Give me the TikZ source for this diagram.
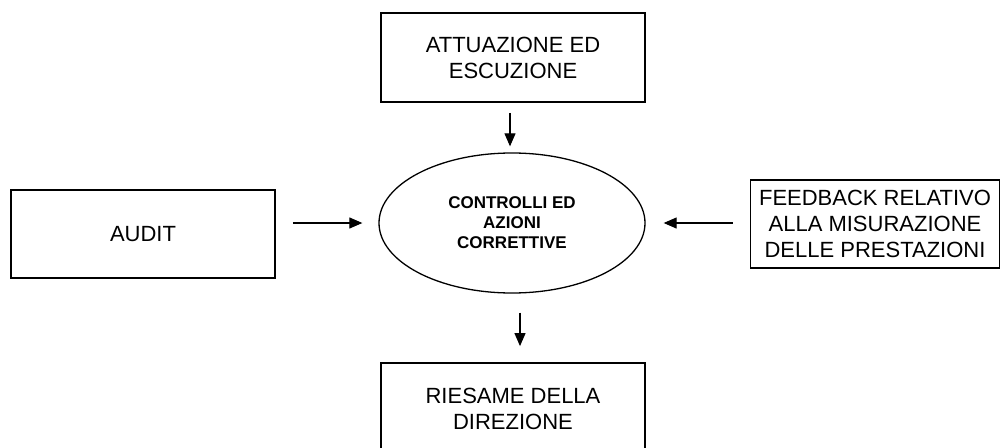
\documentclass[tikz,border=0pt]{standalone}
\usepackage{fontspec}
\setmainfont{Liberation Sans}
\usetikzlibrary{shapes.geometric,arrows.meta}
\tikzset{
  box/.style={draw=black, line width=1.8pt, rectangle, inner sep=0pt, align=center,
    font=\fontsize{22}{26}\selectfont},
  oval/.style={draw=black, line width=1.3pt, ellipse, inner sep=0pt, align=center,
    font=\bfseries\fontsize{17}{20}\selectfont},
  conn/.style={line width=1.1pt, -{Triangle[length=13pt,width=11pt]}}
}
\begin{document}
\begin{tikzpicture}[x=1pt,y=-1pt]
\useasboundingbox (0,0) rectangle (1001,447);
\clip (0,0) rectangle (1001,447);
\fill[white] (0,0) rectangle (1001,447);
\node[box, minimum width=264pt, minimum height=89pt] (top) at (513,57.5) {ATTUAZIONE ED\\ESCUZIONE};
\node[box, minimum width=264pt, minimum height=88pt] (audit) at (143,234) {AUDIT};
\node[box, minimum width=249pt, minimum height=88pt] (feed) at (875,224) {FEEDBACK RELATIVO\\ALLA MISURAZIONE\\DELLE PRESTAZIONI};
\node[oval, minimum width=266pt, minimum height=140pt] (ell) at (512,223) {CONTROLLI ED\\AZIONI\\CORRETTIVE};
\node[box, minimum width=264pt, minimum height=92pt] (bot) at (513,409) {RIESAME DELLA\\DIREZIONE};
\draw[conn, shorten <=10pt, shorten >=6pt] ([xshift=-3pt]top.south) -- ([xshift=-2pt]ell.north);
\draw[conn, shorten <=17pt, shorten >=16pt] (audit.east |- ell.center) -- (ell.west);
\draw[conn, shorten <=17pt, shorten >=18pt] (feed.west |- ell.center) -- (ell.east);
\draw[conn, shorten <=19pt, shorten >=16pt] ([xshift=8pt]ell.south) -- ([xshift=7pt]bot.north);
\end{tikzpicture}
\end{document}
